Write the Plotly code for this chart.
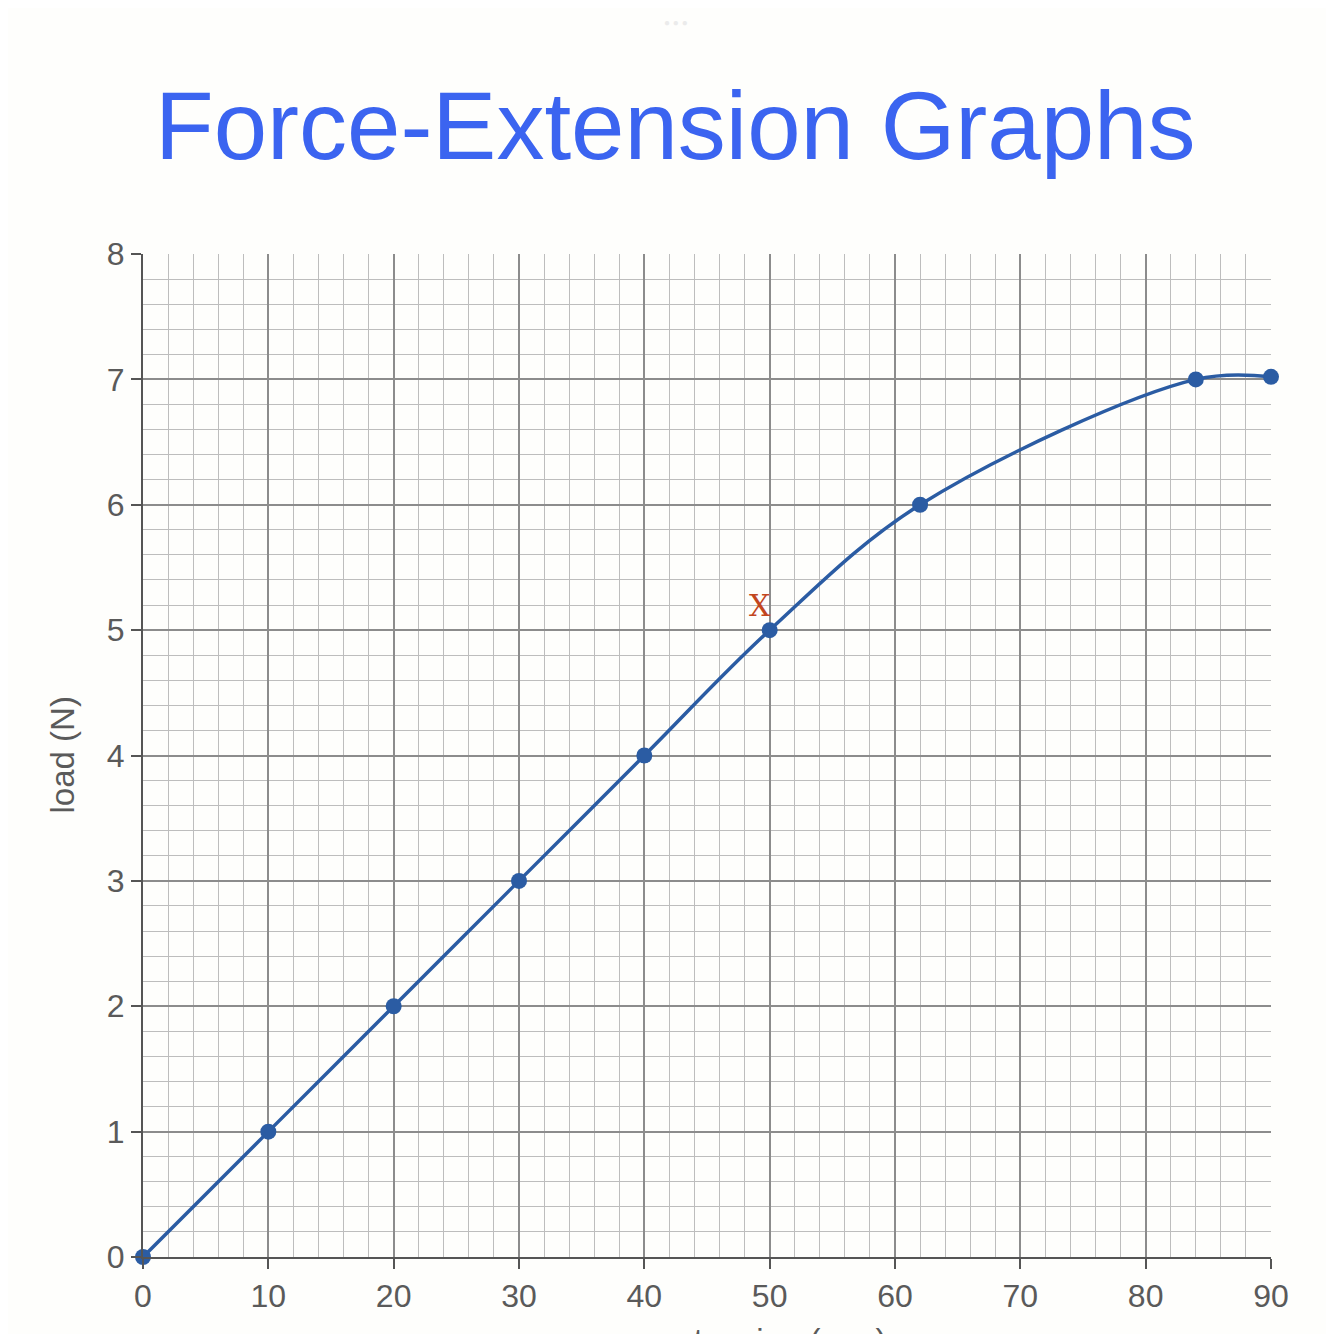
import plotly.graph_objects as go

# extension (mm) vs load (N)
extension = [0, 10, 20, 30, 40, 50, 62, 84, 90]
load = [0, 1, 2, 3, 4, 5, 6, 7, 7.02]

x_ticks = [0, 10, 20, 30, 40, 50, 60, 70, 80, 90]
y_ticks = [0, 1, 2, 3, 4, 5, 6, 7, 8]

line_col = "#2b5ca3"
major_col = "#8c8c8c"
minor_col = "#bdbdbd"
axis_col = "#555555"
sans = "Liberation Sans, Arial, sans-serif"
tick_font = dict(family=sans, size=32, color="#5a5a5a")

fig = go.Figure()
fig.add_trace(go.Scatter(
    x=extension, y=load,
    mode="lines+markers",
    line=dict(color=line_col, width=3.5, shape="spline", smoothing=1.0),
    marker=dict(color=line_col, size=16),
    cliponaxis=False,
    showlegend=False,
))

# the "X" marking the limit of proportionality
fig.add_annotation(
    x=49.2, y=5.2, text="X", showarrow=False,
    font=dict(family="DejaVu Serif, Liberation Serif, serif", size=30, color="#c2461e"),
)

# title and the little dots above it
fig.add_annotation(
    x=0.5, y=1.0, xref="paper", yref="paper", yanchor="middle", yshift=129, xshift=-32,
    text="Force-Extension Graphs", showarrow=False,
    font=dict(family=sans, size=96, color="#3b64f0"),
)
fig.add_annotation(
    x=0.5, y=1.0, xref="paper", yref="paper", yanchor="middle", yshift=232, xshift=-31,
    text="● ● ●", showarrow=False,
    font=dict(family=sans, size=10, color="#ebebeb"),
)

# axis titles (x title runs off the bottom edge as in the original)
fig.add_annotation(
    x=0, y=4.0, xref="paper", yref="y", xanchor="center", yanchor="middle",
    xshift=-81, textangle=-90,
    text="load (N)", showarrow=False,
    font=dict(family=sans, size=33, color="#5a5a5a"),
)
fig.add_annotation(
    x=50.2, y=0, xref="x", yref="paper", xanchor="center", yanchor="top", yshift=-63,
    text="extension (mm)", showarrow=False,
    font=dict(family=sans, size=33, color="#5a5a5a"),
)

fig.update_xaxes(
    range=[0, 90], tickvals=x_ticks, ticks="outside", ticklen=10, tickcolor=axis_col,
    tickwidth=2, tickfont=tick_font, showgrid=True, gridcolor=major_col, gridwidth=1.5,
    minor=dict(dtick=2, showgrid=True, gridcolor=minor_col, gridwidth=1),
    showline=True, linecolor=axis_col, linewidth=2, zeroline=False,
    automargin=False,
)
fig.update_yaxes(
    range=[0, 8], tickvals=y_ticks, ticks="outside", ticklen=10, tickcolor=axis_col,
    tickwidth=2, tickfont=tick_font, showgrid=True, gridcolor=major_col, gridwidth=1.5,
    minor=dict(dtick=0.2, showgrid=True, gridcolor=minor_col, gridwidth=1),
    showline=True, linecolor=axis_col, linewidth=2, zeroline=False,
    automargin=False,
)

fig.update_layout(
    width=1334, height=1334,
    margin=dict(l=135, r=71, t=246, b=85),
    paper_bgcolor="#fefefc", plot_bgcolor="#fefefc",
)

fig.write_html("out.html")
